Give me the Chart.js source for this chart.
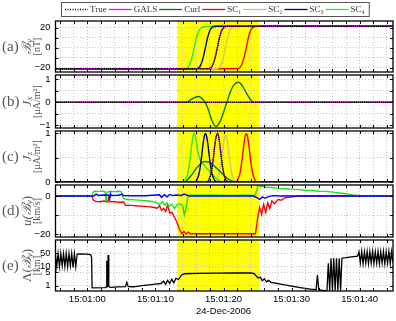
<!DOCTYPE html>
<html>
<head>
<meta charset="utf-8">
<script src="https://cdn.jsdelivr.net/npm/chart.js@4/dist/chart.umd.min.js"></script>
<style>
html, body { margin: 0; padding: 0; background: #fff; width: 396px; height: 321px; overflow: hidden; }
canvas { position: absolute; left: 0; }
</style>
</head>
<body>
<canvas id="pa"></canvas>
<canvas id="pb"></canvas>
<canvas id="pc"></canvas>
<canvas id="pd"></canvas>
<canvas id="pe"></canvas>
<script>
// legend
const legendNames = ['True', 'GALS', 'Curl', 'SC\u2081', 'SC\u2082', 'SC\u2083', 'SC\u2084'];
const legendColors = ['#000000', '#ff00ff', '#007a00', '#ff0000', '#cfc76b', '#00007a', '#22ee22'];

// time axis (seconds after 15:01:00)
const timeRange = [-4.68, 44.9];
const timeGrid = [-4, -2, 0, 2, 4, 6, 8, 10, 12, 14, 16, 18, 20, 22, 24, 26, 28, 30, 32, 34, 36, 38, 40, 42, 44];
const timeTickSec = [0, 10, 20, 30, 40];
const timeTickLabels = ['15:01:00', '15:01:10', '15:01:20', '15:01:30', '15:01:40'];
const dateLabel = '24-Dec-2006';
const crossing = [13.2, 25.25];

// (a) By [nT]
const tByTrue = [-4.7, 17.5, 18.0, 18.4, 18.75, 19.1, 19.45, 19.8, 20.2, 20.7, 45];
const byTrue = [-21, -21, -20.7, -17.5, -10.5, 0.25, 11, 18, 20.9, 21.5, 21.5];
const tBySC1 = [-4.7, 21.75, 22.25, 22.65, 23.0, 23.35, 23.7, 24.05, 24.45, 24.95, 45];
const bySC1 = [-21, -21, -20.6, -17.3, -10.2, 0.3, 11.2, 18.1, 20.9, 21.5, 21.5];
const tBySC2 = [-4.7, 18.7, 19.2, 19.6, 19.95, 20.3, 20.65, 21.0, 21.4, 21.9, 45];
const bySC2 = [-21, -21, -20.7, -17.6, -10.6, 0.2, 10.9, 17.9, 20.8, 21.5, 21.5];
const tBySC3 = [-4.7, 15.75, 16.25, 16.65, 17.0, 17.35, 17.7, 18.05, 18.45, 18.95, 45];
const bySC3 = [-21, -21, -20.6, -17.4, -10.4, 0.3, 11.1, 18.0, 20.9, 21.5, 21.5];
const tBySC4 = [-4.7, 14.1, 14.6, 15.0, 15.35, 15.7, 16.05, 16.4, 16.8, 17.4, 18.3, 45];
const bySC4 = [-21, -21, -20.7, -17.6, -10.6, 0.2, 10.6, 17.2, 20.2, 21.1, 21.5, 21.5];

// (b) Jx [uA/m2]
const tJxTrue = [-4.7, 45];
const jxTrue = [0, 0];
const tJxCurl = [-4.7, 14.3, 14.9, 15.5, 16.3, 16.9, 17.3, 17.8, 18.3, 18.9, 19.5, 20.0, 20.5, 21.0, 21.6, 22.2, 22.8, 23.4, 24.0, 24.6, 45];
const jxCurl = [0, 0, 0.05, 0.17, 0.25, 0.14, 0, -0.35, -0.8, -1.06, -0.85, -0.45, 0, 0.45, 0.78, 0.87, 0.7, 0.38, 0.1, 0, 0];

// (c) Jz [uA/m2]
const tJzTrue = [-4.7, 17.5, 17.9, 18.2, 18.5, 18.75, 18.95, 19.1, 19.25, 19.45, 19.7, 20.0, 20.3, 20.7, 45];
const jzTrue = [0, 0, 0.06, 0.2, 0.48, 0.78, 0.95, 1.0, 0.95, 0.78, 0.48, 0.2, 0.06, 0, 0];
const tJzSC1 = [-4.7, 21.75, 22.15, 22.45, 22.75, 23.0, 23.2, 23.35, 23.5, 23.7, 23.95, 24.25, 24.55, 24.95, 45];
const jzSC1 = [0, 0, 0.06, 0.2, 0.48, 0.78, 0.95, 0.99, 0.95, 0.78, 0.48, 0.2, 0.06, 0, 0];
const tJzSC2 = [-4.7, 18.7, 19.1, 19.4, 19.7, 19.95, 20.15, 20.3, 20.45, 20.65, 20.9, 21.2, 21.5, 21.9, 45];
const jzSC2 = [0, 0, 0.05, 0.19, 0.46, 0.75, 0.91, 0.96, 0.91, 0.75, 0.46, 0.19, 0.05, 0, 0];
const tJzSC3 = [-4.7, 15.75, 16.15, 16.45, 16.75, 17.0, 17.2, 17.35, 17.5, 17.7, 17.95, 18.25, 18.55, 18.95, 45];
const jzSC3 = [0, 0, 0.06, 0.2, 0.48, 0.78, 0.95, 0.99, 0.95, 0.78, 0.49, 0.21, 0.07, 0, 0];
const tJzSC4 = [-4.7, 14.1, 14.5, 14.8, 15.1, 15.35, 15.55, 15.7, 15.85, 16.05, 16.3, 16.6, 17.0, 17.5, 18.0, 18.6, 19.3, 20.0, 45];
const jzSC4 = [0, 0, 0.06, 0.2, 0.48, 0.78, 0.95, 1.0, 0.95, 0.8, 0.58, 0.45, 0.37, 0.29, 0.21, 0.12, 0.04, 0, 0];
const tJzCurl = [-4.7, 14.2, 14.8, 15.4, 16.0, 16.6, 17.2, 17.8, 18.4, 19.0, 19.6, 20.2, 20.8, 21.4, 21.8, 45];
const jzCurl = [0, 0, 0.06, 0.16, 0.28, 0.37, 0.42, 0.41, 0.36, 0.28, 0.2, 0.12, 0.05, 0.01, 0, 0];

// (d) u(By) [km/s]
const tUBlue = [-4.7, 0.9, 1.3, 1.6, 2.4, 3.2, 3.3, 3.4, 3.5, 4.5, 5.1, 5.3, 6.5, 8.5, 10.6, 10.9, 11.3, 11.7, 12.1, 12.5,
  13.0, 13.8, 14.2, 14.6, 15.0, 24.4, 24.9, 25.3, 25.7, 26.1, 26.6, 27.3, 28.5, 45];
const uBlue = [0, 0, 1.0, 0.3, 0.5, 0.4, -1.8, 1.3, 0.3, 0.4, 0.9, 0.2, 0.1, 0.1, 0.6, -0.8, 0.7, -0.4, 0.8, 0.2,
  0.5, 0.3, 1.0, 0.5, 0, 0, -0.8, -1.8, -0.5, -1.2, -0.3, 0.2, 0, 0];
const tUGreen = [-4.7, 0.7, 0.85, 1.0, 1.6, 2.2, 2.6, 2.75, 2.9, 3.4, 4.0, 4.6, 5.0, 5.2, 5.4, 6.0, 7.0, 8.0, 9.0, 10.0,
  10.6, 11.0, 11.4, 11.7, 12.0, 12.4, 12.8, 13.2, 13.6, 14.0, 14.25, 14.5, 14.8, 15.5, 18.0, 21.0, 23.5, 24.6, 24.9, 25.1,
  25.4, 25.7, 26.2, 27.0, 28.0, 29.0, 30.0, 31.0, 32.0, 33.0, 34.0, 35.0, 36.0, 37.0, 38.0, 39.0, 40.0, 41.0, 45];
const uGreen = [0, 0, 2.0, 2.5, 2.3, 2.6, 2.2, -3.5, 2.0, 2.4, 2.3, 2.5, 2.2, -0.5, -1.5, -1.8, -2.0, -2.3, -2.6, -3.2,
  -4.5, -3.0, -4.8, -3.5, -5.5, -4.2, -6.5, -4.5, -4.0, -5.0, -9.8, -6.0, 0.3, 0.4, 0.5, 0.3, 0.5, 0.2, 3.0, 6.5,
  4.8, 5.2, 4.5, 4.4, 4.0, 3.8, 3.6, 3.3, 3.0, 2.9, 2.5, 2.4, 2.0, 1.6, 1.2, 0.6, 0.2, 0, 0];
const tURed = [-4.7, 0.7, 0.85, 1.2, 1.8, 2.5, 3.0, 3.1, 3.3, 4.0, 4.8, 5.3, 5.6, 6.5, 7.5, 8.5, 9.2, 9.8, 10.3, 10.6,
  10.9, 11.2, 11.5, 11.8, 12.1, 12.4, 12.7, 13.0, 13.3, 13.6, 13.9, 14.2, 14.5, 14.8, 15.2, 24.7, 25.0, 25.3, 25.6, 25.9,
  26.2, 26.5, 26.8, 27.1, 27.5, 28.0, 28.5, 29.0, 29.8, 31, 45];
const uRed = [0, 0, -2.0, -2.8, -3.0, -2.6, -3.2, -1.0, -2.9, -3.0, -3.3, -3.1, -4.8, -4.9, -5.2, -5.4, -5.7, -6.0, -6.4, -5.0,
  -7.5, -6.5, -8.0, -4.5, -9.0, -8.5, -10.5, -12.5, -15.0, -18.0, -19.7, -18.6, -19.8, -18.9, -19.7, -19.7, -12, -6.0, -9.5, -4.5,
  -8.5, -3.5, -6.5, -2.5, -4.0, -1.8, -2.2, -1.0, -0.5, 0, 0];

// (e) Lambda(By) [km]
const tLam = [
  -4.7, -4.5, -4.3, -4.1, -3.9, -3.7, -3.5, -3.3, -3.1, -2.9,
  -2.7, -2.5, -2.3, -2.1, -1.9, -1.7, -1.5, -1.3, 0.0, 0.5,
  0.62, 0.7, 2.6, 2.75, 2.85, 2.95, 3.05, 3.15, 3.3, 3.5,
  4.5, 5.6, 5.8, 6.0, 6.8, 8.0, 9.1, 10.0, 10.8, 11.2,
  11.5, 11.8, 12.1, 12.4, 12.7, 13.0, 13.4, 13.8, 14.3, 16.0,
  19.0, 22.0, 24.0, 24.5, 24.8, 25.1, 25.4, 25.7, 26.0, 26.3,
  26.6, 27.0, 28.0, 29.0, 30.4, 31.5, 32.8, 33.6, 33.8, 34.0,
  34.7, 35.2, 35.4, 35.6, 35.8, 36.0, 36.2, 36.4, 36.6, 36.8,
  37.0, 37.2, 37.4, 37.6, 38.0, 38.8, 39.7, 39.9, 40.1, 40.3,
  40.5, 40.7, 40.9, 41.1, 41.3, 41.5, 41.7, 41.9, 42.1, 42.3,
  42.5, 42.7, 42.9, 43.1, 43.3, 43.5, 43.7, 43.9, 44.1, 44.3,
  44.5, 44.7, 44.9
];
const lam = [
  45, 10, 48, 10, 48, 11, 47, 10, 48, 10,
  47, 11, 48, 9, 46, 10, 44, 45, 44, 41,
  30, 0.78, 0.8, 0.85, 20, 0.85, 40, 0.9, 0.85, 0.82,
  0.86, 0.9, 1.5, 0.9, 0.88, 1.0, 1.1, 1.2, 1.3, 1.7,
  1.2, 1.9, 1.3, 2.2, 1.4, 2.4, 2.1, 3.5, 4.2, 4.4,
  4.5, 4.6, 4.6, 4.3, 3.2, 2.5, 2.8, 1.8, 2.3, 1.6,
  1.9, 1.5, 1.3, 1.1, 0.9, 0.78, 0.66, 0.62, 3.6, 0.6,
  0.57, 0.56, 14.7, 0.56, 27, 0.56, 27, 0.56, 27, 0.56,
  27, 0.56, 27, 28, 29, 32, 35, 58, 15, 60,
  14, 58, 15, 60, 14, 59, 15, 60, 14, 58,
  15, 60, 14, 59, 15, 60, 14, 58, 15, 60,
  14, 59, 15
];

const serif = '"Liberation Serif", "DejaVu Serif", serif';
const tickFont = {family: '"Liberation Sans", Arial, sans-serif', size: 9.5};

const pts = (ts, vs) => ts.map((t, i) => ({x: t, y: vs[i]}));
const line = (label, ts, vs, color, extra) => Object.assign({
  label, data: pts(ts, vs), borderColor: color, borderWidth: 1.4,
  pointRadius: 0, fill: false, cubicInterpolationMode: 'monotone'
}, extra || {});
const trueDash = {borderDash: [1.3, 0.8], borderWidth: 1.5};
const galsThin = {borderWidth: 1.1};
const jagged = {cubicInterpolationMode: 'default', tension: 0};

const drawRotated = (ctx, parts, cx, cy, size) => {
  ctx.save();
  ctx.translate(cx, cy);
  ctx.rotate(-Math.PI / 2);
  const fontOf = p => p[1] === 's' ? 'italic ' + Math.round(size * 0.7) + 'px ' + serif
    : (p[1] === 'i' ? 'italic ' : '') + size + 'px ' + serif;
  let w = 0;
  parts.forEach(p => { ctx.font = fontOf(p); w += ctx.measureText(p[0]).width; });
  let x = -w / 2;
  parts.forEach(p => {
    ctx.font = fontOf(p);
    ctx.fillText(p[0], x, p[1] === 's' ? size * 0.42 : size * 0.3);
    x += ctx.measureText(p[0]).width;
  });
  ctx.restore();
};

const panelDecor = {
  id: 'panelDecor',
  beforeDraw(chart) {
    const {ctx, chartArea: a, scales: {x}} = chart;
    const x0 = x.getPixelForValue(crossing[0]);
    const x1 = x.getPixelForValue(crossing[1]);
    ctx.save();
    ctx.fillStyle = '#ffff00';
    ctx.fillRect(x0, a.top, x1 - x0, a.bottom - a.top);
    ctx.restore();
  },
  afterDraw(chart) {
    const {ctx, chartArea: a, scales: {x, y}} = chart;
    const opt = chart.options.plugins.panelDecor;
    ctx.save();
    ctx.strokeStyle = '#000';
    ctx.lineWidth = 1;
    ctx.beginPath();
    x.ticks.forEach(t => {
      const px = Math.round(x.getPixelForValue(t.value)) + 0.5;
      ctx.moveTo(px, a.top); ctx.lineTo(px, a.top + 3);
      ctx.moveTo(px, a.bottom); ctx.lineTo(px, a.bottom - 3);
    });
    y.ticks.forEach(t => {
      const py = Math.round(y.getPixelForValue(t.value)) + 0.5;
      ctx.moveTo(a.left, py); ctx.lineTo(a.left + 3, py);
      ctx.moveTo(a.right, py); ctx.lineTo(a.right - 3, py);
    });
    ctx.stroke();
    ctx.lineWidth = 1.3;
    ctx.strokeRect(a.left, a.top, a.right - a.left, a.bottom - a.top);

    const cy = (a.top + a.bottom) / 2;
    ctx.fillStyle = '#555';
    ctx.font = '15px ' + serif;
    ctx.textBaseline = 'alphabetic';
    ctx.fillText(opt.tag, 2, cy + 4);
    drawRotated(ctx, opt.name, 27, cy, 13);
    drawRotated(ctx, [[opt.unit, 'n']], 36.5, cy, 10);
    ctx.restore();
  }
};

const topLegend = {
  id: 'topLegend',
  afterDraw(chart) {
    const ctx = chart.ctx;
    ctx.save();
    ctx.font = '9px ' + serif;
    ctx.textBaseline = 'middle';
    let x = 65;
    const y = 9.5;
    legendNames.forEach((name, i) => {
      ctx.strokeStyle = legendColors[i];
      ctx.lineWidth = 1.3;
      ctx.setLineDash(i === 0 ? [1, 1.5] : []);
      ctx.beginPath();
      ctx.moveTo(x, y);
      ctx.lineTo(x + 23, y);
      ctx.stroke();
      ctx.fillStyle = '#333';
      ctx.fillText(name, x + 25, y + 0.5);
      x += 25 + ctx.measureText(name).width + 2;
    });
    ctx.setLineDash([]);
    ctx.strokeStyle = '#555';
    ctx.lineWidth = 1;
    ctx.strokeRect(61.5, 2.5, x - 59, 14);
    ctx.restore();
  }
};

const yAxis = (min, max, grid, labels, type) => ({
  type: type || 'linear', min, max,
  afterBuildTicks: s => { s.ticks = grid.map(v => ({value: v})); },
  afterFit: s => { s.width = 55.5; s.paddingTop = 0; s.paddingBottom = 0; },
  grid: {color: '#c4c4c4', drawTicks: false},
  border: {display: false, dash: [1, 2]},
  ticks: {
    padding: 5, color: '#000', font: tickFont, autoSkip: false,
    callback: v => labels.includes(v) ? String(v).replace('-', '\u2212') : ''
  }
});

const makePanel = (id, top, height, pad, datasets, y, decor, bottom, extraPlugins) => {
  const canvas = document.getElementById(id);
  canvas.width = 396;
  canvas.height = height;
  canvas.style.top = top + 'px';
  return new Chart(canvas, {
    type: 'line',
    data: {datasets},
    options: {
      responsive: false,
      animation: false,
      devicePixelRatio: 1,
      parsing: false,
      layout: {padding: {left: 0, right: 3, top: pad[0], bottom: pad[1]}},
      plugins: {legend: {display: false}, tooltip: {enabled: false}, panelDecor: decor},
      scales: {
        x: {
          type: 'linear', min: timeRange[0], max: timeRange[1],
          afterBuildTicks: s => { s.ticks = timeGrid.map(v => ({value: v})); },
          afterFit: s => { s.paddingLeft = 0; s.paddingRight = 0; s.height = bottom ? 30 : 0; },
          grid: {color: '#c4c4c4', drawTicks: false},
          border: {display: false, dash: [1, 2]},
          ticks: {
            display: bottom, maxRotation: 0, autoSkip: false, padding: 3, color: '#000', font: tickFont,
            callback: v => {
              const k = timeTickSec.indexOf(v);
              if (k < 0) return '';
              return v === 20 ? [timeTickLabels[k], dateLabel] : timeTickLabels[k];
            }
          }
        },
        y
      }
    },
    plugins: [panelDecor].concat(extraPlugins || [])
  });
};

makePanel('pa', 0, 80, [21, 8], [
  line('True', tByTrue, byTrue, legendColors[0], trueDash),
  line('GALS', tByTrue, byTrue, legendColors[1], galsThin),
  line('SC3', tBySC3, bySC3, legendColors[5]),
  line('SC4', tBySC4, bySC4, legendColors[6]),
  line('SC2', tBySC2, bySC2, legendColors[4]),
  line('SC1', tBySC1, bySC1, legendColors[3])
], yAxis(-24.3, 26.7, [-20, -10, 0, 10, 20], [-20, 0, 20]),
  {tag: '(a)', name: [['\u212C', 'i'], ['y', 's']], unit: '[nT]'}, false, [topLegend]);

makePanel('pb', 67, 69, [8, 8], [
  line('True', tJxTrue, jxTrue, legendColors[0], trueDash),
  line('GALS', tJxTrue, jxTrue, legendColors[1], galsThin),
  line('Curl', tJxCurl, jxCurl, legendColors[2])
], yAxis(-1.13, 1.19, [-1, -0.5, 0, 0.5, 1], [-1, 0, 1]),
  {tag: '(b)', name: [['J', 'i'], ['x', 's']], unit: '[\u03BCA/m\u00B2]'}, false);

makePanel('pc', 123, 67, [8, 8], [
  line('True', tJzTrue, jzTrue, legendColors[0], trueDash),
  line('GALS', tJzTrue, jzTrue, legendColors[1], galsThin),
  line('SC3', tJzSC3, jzSC3, legendColors[5]),
  line('SC4', tJzSC4, jzSC4, legendColors[6]),
  line('Curl', tJzCurl, jzCurl, legendColors[2]),
  line('SC2', tJzSC2, jzSC2, legendColors[4]),
  line('SC1', tJzSC1, jzSC1, legendColors[3])
], yAxis(0, 1.047, [0, 0.5, 1], [0, 1]),
  {tag: '(c)', name: [['J', 'i'], ['z', 's']], unit: '[\u03BCA/m\u00B2]'}, false);

makePanel('pd', 177, 68, [8, 8], [
  line('SC3', tUBlue, uBlue, '#0000ff', jagged),
  line('SC4', tUGreen, uGreen, '#1fe01f', jagged),
  line('SC1', tURed, uRed, '#ff0000', jagged)
], yAxis(-21.4, 5.74, [-20, -10, 0], [-20, 0]),
  {tag: '(d)', name: [['u(', 'i'], ['\u212C', 'i'], ['y', 's'], [')', 'n']], unit: '[km/s]'}, false);

makePanel('pe', 232, 89, [8, 0], [
  line('Lambda', tLam, lam, '#000000', Object.assign({borderWidth: 1.3}, jagged))
], yAxis(0.53, 240, [1, 5, 10, 50], [1, 5, 10, 50], 'logarithmic'),
  {tag: '(e)', name: [['\u039B(', 'n'], ['\u212C', 'i'], ['y', 's'], [')', 'n']], unit: '[km]'}, true);
</script>
</body>
</html>
